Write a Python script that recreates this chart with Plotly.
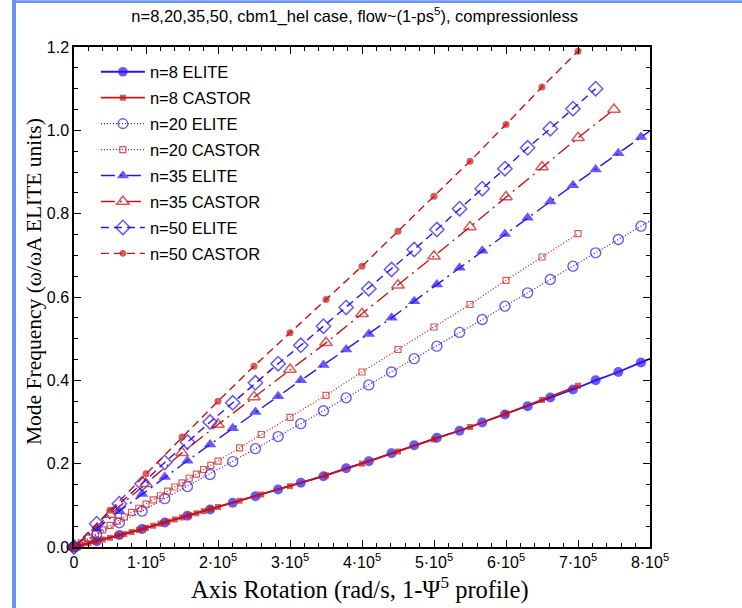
import plotly.graph_objects as go

# ---------------- data ----------------
x_elite = [0, 31500, 63000, 94500, 126000, 157500, 189000, 220500, 252000, 283500,
           315000, 346500, 378000, 409500, 441000, 472500, 504000, 535500, 567000,
           598500, 630000, 661500, 693000, 724500, 756000, 787500, 819000]
x_castor_fine = [0, 10000, 20000, 30000, 40000, 50000, 60000, 70000, 80000, 90000,
                 100000, 110000, 120000, 130000, 140000, 150000, 160000, 170000, 180000,
                 190000, 200000, 230000, 260000, 300000, 350000, 400000, 450000, 500000,
                 550000, 600000, 650000, 700000]
x_castor_coarse = [0, 50000, 100000, 150000, 200000, 250000, 300000, 350000, 400000,
                   450000, 500000, 550000, 600000, 650000, 700000, 750000]

n8_elite = [0.0, 0.014, 0.029, 0.043, 0.059, 0.075, 0.090, 0.106, 0.122, 0.138, 0.154,
            0.170, 0.189, 0.206, 0.225, 0.244, 0.262, 0.279, 0.299, 0.318, 0.338, 0.359,
            0.378, 0.400, 0.420, 0.443, 0.465]
n8_castor = [0.0, 0.004, 0.009, 0.013, 0.018, 0.022, 0.027, 0.031, 0.036, 0.041, 0.046,
             0.051, 0.056, 0.061, 0.066, 0.071, 0.076, 0.081, 0.086, 0.091, 0.096, 0.111,
             0.126, 0.146, 0.172, 0.200, 0.229, 0.258, 0.288, 0.320, 0.353, 0.387]
n20_elite = [0.0, 0.030, 0.058, 0.086, 0.116, 0.145, 0.174, 0.205, 0.236, 0.265, 0.296,
             0.327, 0.358, 0.389, 0.420, 0.452, 0.482, 0.515, 0.546, 0.578, 0.610, 0.642,
             0.674, 0.706, 0.738, 0.770, 0.802]
n20_castor = [0.0, 0.010, 0.021, 0.031, 0.041, 0.052, 0.062, 0.072, 0.083, 0.093, 0.103,
              0.113, 0.123, 0.134, 0.144, 0.154, 0.165, 0.175, 0.186, 0.196, 0.206, 0.238,
              0.270, 0.311, 0.364, 0.420, 0.474, 0.528, 0.582, 0.640, 0.696, 0.752]
n35_elite = [0.0, 0.045, 0.086, 0.127, 0.168, 0.207, 0.246, 0.285, 0.324, 0.362, 0.400,
             0.437, 0.474, 0.511, 0.550, 0.590, 0.630, 0.670, 0.711, 0.751, 0.790, 0.829,
             0.868, 0.906, 0.945, 0.984, 1.022]
n35_castor = [0.0, 0.078, 0.152, 0.226, 0.294, 0.360, 0.426, 0.490, 0.560, 0.628, 0.698,
              0.768, 0.840, 0.912, 0.982, 1.050]
n50_elite = [0.0, 0.056, 0.104, 0.152, 0.203, 0.252, 0.300, 0.346, 0.394, 0.440, 0.484,
             0.530, 0.575, 0.620, 0.666, 0.714, 0.762, 0.812, 0.860, 0.908, 0.958, 1.004,
             1.052, 1.100]
n50_castor = [0.0, 0.088, 0.176, 0.264, 0.350, 0.434, 0.514, 0.594, 0.674, 0.758, 0.842,
              0.926, 1.014, 1.104, 1.190, 1.276]

x_tickvals = [0, 100000, 200000, 300000, 400000, 500000, 600000, 700000, 800000]
x_ticktext = ["0", "1·10<sup>5</sup>", "2·10<sup>5</sup>", "3·10<sup>5</sup>", "4·10<sup>5</sup>",
              "5·10<sup>5</sup>", "6·10<sup>5</sup>", "7·10<sup>5</sup>", "8·10<sup>5</sup>"]

BLUE = "#2a14ee"
RED = "#c81414"
XMAX, YMAX = 800000, 1.2
SANS = "Liberation Sans, Arial"
SERIF = "Liberation Serif, Times New Roman"

fig = go.Figure()

def add(name, xs, ys, color, dash, width, symbol, size, lw=1.2):
    xs = xs[:len(ys)]
    sizes = [size if (x <= XMAX and y <= YMAX) else 0 for x, y in zip(xs, ys)]
    fig.add_trace(go.Scatter(
        x=xs, y=ys, name=name, mode="lines+markers", legendgroup=name,
        line=dict(color=color, dash=dash, width=width),
        marker=dict(symbol=symbol, size=sizes, color=color,
                    line=dict(color=color, width=lw)),
        cliponaxis=False,
    ))

add("n=8 ELITE", x_elite, n8_elite, BLUE, "solid", 1.8, "circle", 10, 0)
add("n=8 CASTOR", x_castor_fine, n8_castor, RED, "solid", 1.8, "square", 6, 0)
add("n=20 ELITE", x_elite, n20_elite, BLUE, "1px,2px", 1.2, "circle-open", 10, 1.4)
add("n=20 CASTOR", x_castor_fine, n20_castor, RED, "1px,2px", 1.2, "square-open", 6, 1.2)
add("n=35 ELITE", x_elite, n35_elite, BLUE, "14px,5px,2px,5px", 1.4, "triangle-up", 11, 0)
add("n=35 CASTOR", x_castor_coarse, n35_castor, RED, "14px,5px,2px,5px", 1.4, "triangle-up-open", 11, 1.5)
add("n=50 ELITE", x_elite, n50_elite, BLUE, "8px,5px", 1.4, "diamond-open", 11, 1.5)
add("n=50 CASTOR", x_castor_coarse, n50_castor, RED, "8px,5px", 1.4, "circle", 7, 0)

axis_common = dict(showline=True, linecolor="black", linewidth=1.5, mirror="allticks",
                   ticks="inside", ticklen=7, tickwidth=1.2, tickcolor="black",
                   showgrid=False, zeroline=False,
                   tickfont=dict(family=SANS, size=16, color="black"))

fig.update_layout(
    width=742, height=608,
    margin=dict(l=74, r=92, t=47, b=61),
    paper_bgcolor="white", plot_bgcolor="white",
    title=dict(text="n=8,20,35,50, cbm1_hel case, flow~(1-ps<sup>5</sup>), compressionless",
               x=0.478, xanchor="center", y=0.974, yanchor="middle",
               font=dict(family=SANS, size=16.5, color="black")),
    xaxis=dict(range=[0, XMAX], tickvals=x_tickvals, ticktext=x_ticktext,
               minor=dict(ticks="inside", ticklen=4, dtick=20000, tickcolor="black", tickwidth=1),
               **axis_common),
    yaxis=dict(range=[0, YMAX], dtick=0.2, tickformat=".1f",
               minor=dict(ticks="inside", ticklen=4, dtick=0.05, tickcolor="black", tickwidth=1),
               **axis_common),
    legend=dict(x=0.038, y=0.985, xanchor="left", yanchor="top", itemwidth=44,
                bgcolor="rgba(0,0,0,0)", tracegroupgap=1.5, traceorder="grouped",
                font=dict(family=SANS, size=16.5, color="black")),
    annotations=[
        dict(text="Axis Rotation (rad/s, 1-Ψ<sup>5</sup> profile)", xref="paper", yref="paper",
             x=0.4965, y=-0.0826, xanchor="center", yanchor="middle", showarrow=False,
             font=dict(family=SERIF, size=24.5, color="black")),
        dict(text="Mode Frequency (ω/ωA ELITE units)", xref="paper", yref="paper",
             x=-0.0694, y=0.53, xanchor="center", yanchor="middle", showarrow=False,
             textangle=-90, font=dict(family=SERIF, size=21.5, color="black")),
    ],
    shapes=[
        dict(type="rect", xref="paper", yref="paper", x0=-0.1076, x1=-0.1007,
             y0=-0.13, y1=1.0934, fillcolor="#6a96f0", line=dict(width=0), layer="above"),
        dict(type="rect", xref="paper", yref="paper", x0=-0.1076, x1=1.17,
             y0=1.088, y1=1.0934, fillcolor="#6a96f0", line=dict(width=0), layer="above"),
    ],
)

fig.write_html("out.html")
